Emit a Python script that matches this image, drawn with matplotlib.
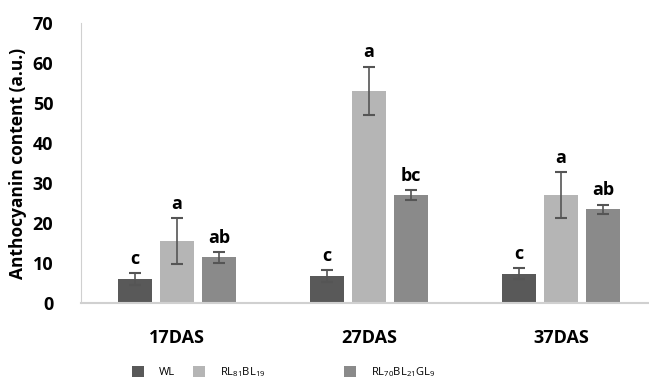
import matplotlib
matplotlib.use("Agg")
import matplotlib.pyplot as plt
import numpy as np

categories = ["17DAS", "27DAS", "37DAS"]
series_names = ["WL", r"RL$_{\mathregular{81}}$BL$_{\mathregular{19}}$",
                r"RL$_{\mathregular{70}}$BL$_{\mathregular{21}}$GL$_{\mathregular{9}}$"]
wl = [5.9, 6.8, 7.3]
rl81 = [15.5, 53.1, 27.0]
rl70 = [11.4, 27.0, 23.4]
wl_err = [1.5, 1.5, 1.4]
rl81_err = [5.8, 6.0, 5.8]
rl70_err = [1.4, 1.2, 1.2]
wl_letters = ["c", "c", "c"]
rl81_letters = ["a", "a", "a"]
rl70_letters = ["ab", "bc", "ab"]

colors = ["#595959", "#b5b5b5", "#8a8a8a"]
plt.rcParams['font.family'] = ['Open Sans', 'DejaVu Sans']

fig = plt.figure(figsize=(6.49, 3.83), dpi=100)
ax = fig.add_axes([81/649, (383-303)/383, (649-81)/649, 280/383])

x = np.arange(len(categories))
w = 0.177
off = 0.219
data = [(wl, wl_err, wl_letters), (rl81, rl81_err, rl81_letters), (rl70, rl70_err, rl70_letters)]
handles = []
for i, (vals, errs, lets) in enumerate(data):
    pos = x + (i - 1) * off
    b = ax.bar(pos, vals, width=w, color=colors[i], label=series_names[i], zorder=2)
    handles.append(b)
    ax.errorbar(pos, vals, yerr=errs, fmt='none', ecolor="#555555", elinewidth=1.2,
                capsize=4, capthick=1.5, zorder=3)
    for p, v, e, l in zip(pos, vals, errs, lets):
        ax.text(p, v + e + 1.3, l, ha='center', va='bottom', fontsize=13,
                fontweight='bold', color='black')

ax.set_ylim(0, 70)
ax.set_xlim(-0.5, -0.5 + 568/192)
ax.set_yticks(range(0, 71, 10))
ax.set_xticks(x)
ax.set_xticklabels(categories, fontsize=13, fontweight='bold')
ax.tick_params(axis='both', length=0)
ax.tick_params(axis='y', labelsize=13, pad=20)
ax.tick_params(axis='x', pad=19)
for lab in ax.get_yticklabels():
    lab.set_fontweight('bold')
for s in ['top', 'right']:
    ax.spines[s].set_visible(False)
ax.spines['left'].set_color('#d0d0d0')
ax.spines['bottom'].set_color('#d0d0d0')
ax.spines['bottom'].set_linewidth(1.5)
ax.set_ylabel("Anthocyanin content (a.u.)", fontsize=12.5, fontweight='bold', labelpad=4)

leg_x = [132/649, 193/649, 344/649]
for h, name, lx in zip(handles, series_names, leg_x):
    fig.legend([h], [name], loc='center left', bbox_to_anchor=(lx, 1 - 372/383),
               frameon=False, fontsize=8, handlelength=1.1, handleheight=1.1,
               handletextpad=1.3, borderpad=0, borderaxespad=0)

fig.savefig("out.png", dpi=100)
